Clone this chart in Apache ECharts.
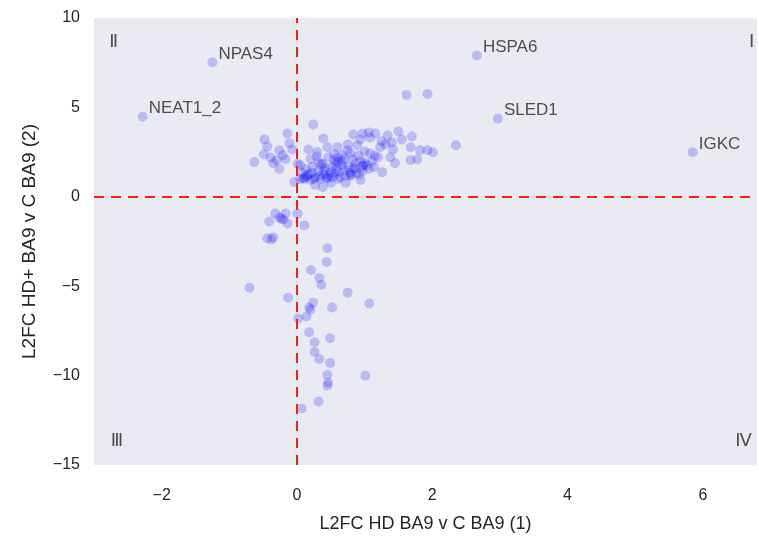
<!DOCTYPE html>
<html><head><meta charset="utf-8">
<script src="https://cdn.jsdelivr.net/npm/echarts@6/dist/echarts.min.js"></script>
<style>html,body{margin:0;padding:0;background:#fff}#c{width:759px;height:538px}</style>
</head><body><div id="c"></div>
<script>
// Labelled genes
const geneNames = ["NPAS4", "NEAT1_2", "HSPA6", "SLED1", "IGKC"];
const geneX = [-1.25, -2.28, 2.66, 2.97, 5.85];
const geneY = [7.52, 4.48, 7.90, 4.37, 2.49];

// Other genes (x = L2FC comparison 1, y = L2FC comparison 2)
const otherX = [
  // below zero
  -0.32,-0.17,0.01,-0.41,-0.23,-0.20,-0.26,-0.14,0.11,-0.44,-0.35,-0.38,0.45,0.44,0.21,0.33,0.36,-0.70,0.75,-0.13,
  0.24,0.18,0.20,1.07,0.52,0.02,0.14,0.18,0.26,0.49,0.26,0.33,0.49,0.45,0.46,0.45,1.01,0.32,0.07,
  // left of zero, positive
  -0.14,-0.48,-0.44,-0.11,-0.49,-0.26,-0.07,-0.21,-0.17,-0.35,-0.63,-0.26,0.01,-0.04,-0.30,-0.39,
  // upper / spread cluster
  1.62,1.93,0.24,0.39,0.17,0.29,0.45,0.60,0.75,0.83,0.97,1.06,1.16,1.34,1.50,1.70,1.68,1.82,1.93,2.01,2.35,
  1.68,1.78,1.45,1.38,1.26,0.97,0.57,0.82,1.23,1.31,1.42,0.94,0.89,0.75,1.08,1.25,1.40,1.55,0.38,
  // dense core
  0.05,0.13,0.20,0.27,0.35,0.44,0.52,0.61,0.72,0.79,0.88,0.97,1.06,1.14,
  0.13,0.23,0.32,0.42,0.50,0.58,0.67,0.76,0.86,0.94,1.03,1.11,1.20,
  0.20,0.32,0.46,0.55,0.67,0.79,0.91,1.00,1.08,0.61,0.98,0.08,0.05,0.27,0.50,0.72,0.94,
  0.15,0.40,0.62,0.85,0.30,0.55,0.70,1.15,0.10,0.36,
  0.10,0.18,0.25,0.33,0.40,0.48,0.56,0.64,0.70,0.78,0.84,0.92,1.00,0.22,0.38,0.52,0.66,0.80,0.45,0.60
];
const otherY = [
  -0.94,-0.94,-0.94,-1.38,-1.22,-1.27,-1.16,-1.49,-1.60,-2.32,-2.27,-2.38,-2.88,-3.65,-4.09,-4.54,-4.92,-5.09,-5.36,-5.64,
  -5.92,-6.19,-6.31,-5.97,-6.19,-6.80,-6.69,-7.58,-8.13,-7.91,-8.68,-9.07,-9.29,-9.96,-10.40,-10.56,-10.01,-11.45,-11.84,
  3.54,3.21,2.82,2.99,2.38,2.60,2.65,2.32,2.10,1.88,1.94,1.55,1.83,0.83,2.05,2.20,
  5.70,5.75,4.04,3.26,2.65,2.27,2.77,2.77,2.93,3.48,3.54,3.60,3.54,3.43,3.65,3.37,2.77,2.60,2.60,2.49,2.88,
  2.05,2.10,1.88,2.21,1.38,1.71,1.88,2.10,2.77,2.93,2.65,3.21,2.88,2.60,3.32,3.10,3.05,3.20,0.55,
  1.00,1.10,0.94,1.10,1.00,1.05,1.10,1.00,1.16,1.22,1.33,1.44,1.55,1.66,
  1.55,1.66,1.44,1.60,1.38,1.55,1.77,1.66,1.88,1.99,1.77,1.99,2.21,
  2.10,1.94,2.21,2.38,2.32,2.43,2.32,2.54,2.43,1.94,1.77,1.33,1.77,0.66,0.77,0.77,0.94,
  1.20,1.25,1.40,1.60,2.50,2.05,2.10,2.30,1.00,1.80,
  1.05,1.25,1.00,1.15,1.45,1.20,1.30,1.10,1.50,1.35,1.60,1.25,1.90,1.35,1.85,1.70,2.00,1.20,1.05,2.20
];

const quadNames = ["Ⅰ", "Ⅱ", "Ⅲ", "Ⅳ"];
const quadX = [6.72, -2.71, -2.66, 6.60];
const quadY = [8.63, 8.63, -13.66, -13.66];

const xTicks = [-2, 0, 2, 4, 6];

const FONT = "'Liberation Sans', Arial, sans-serif";
const TXT = '#262626';
const DOT = 'rgba(0,0,255,0.25)';

const chart = echarts.init(document.getElementById('c'), null, {renderer: 'canvas'});
const fmt = v => (v < 0 ? '\u2212' + Math.abs(v) : String(v));

chart.setOption({
  animation: false,
  backgroundColor: '#ffffff',
  grid: {left: 94, right: 2, top: 18, bottom: 67, show: true, backgroundColor: '#EAEAF2', borderWidth: 0},
  xAxis: {
    type: 'value', min: -3, max: 6.8, interval: 2,
    axisLine: {show: false}, axisTick: {show: false}, splitLine: {show: false},
    axisLabel: {color: TXT, fontSize: 16, fontFamily: FONT, margin: 23,
      customValues: xTicks, formatter: fmt},
    name: 'L2FC HD BA9 v C BA9 (1)', nameLocation: 'middle', nameGap: 50,
    nameTextStyle: {color: TXT, fontSize: 18, fontFamily: FONT}
  },
  yAxis: {
    type: 'value', min: -15, max: 10, interval: 5,
    axisLine: {show: false}, axisTick: {show: false}, splitLine: {show: false},
    axisLabel: {color: TXT, fontSize: 16, fontFamily: FONT, margin: 14, formatter: fmt},
    name: 'L2FC HD+ BA9 v C BA9 (2)', nameLocation: 'middle', nameGap: 55,
    nameTextStyle: {color: TXT, fontSize: 19, fontFamily: FONT}
  },
  series: [
    {
      type: 'scatter', symbolSize: 10, silent: true,
      itemStyle: {color: DOT},
      data: otherX.map((x, i) => [x, otherY[i]]),
      markLine: {
        silent: true, symbol: 'none', label: {show: false},
        lineStyle: {color: '#ff1a1a', width: 2, type: [10, 7]},
        data: [{xAxis: 0}, {yAxis: 0}]
      }
    },
    {
      type: 'scatter', symbolSize: 10, silent: true,
      itemStyle: {color: DOT},
      data: geneNames.map((n, i) => ({name: n, value: [geneX[i], geneY[i]]})),
      label: {show: true, position: 'right', distance: 1, offset: [0, -8],
        formatter: p => p.name, color: TXT, fontSize: 17, fontFamily: FONT}
    },
    {
      type: 'scatter', symbolSize: 0, silent: true,
      data: quadNames.map((n, i) => ({name: n, value: [quadX[i], quadY[i]]})),
      label: {show: true, position: 'inside', formatter: p => p.name,
        color: TXT, fontSize: 18, fontFamily: "'DejaVu Sans', 'Noto Sans CJK SC', sans-serif"}
    }
  ]
});
</script></body></html>
